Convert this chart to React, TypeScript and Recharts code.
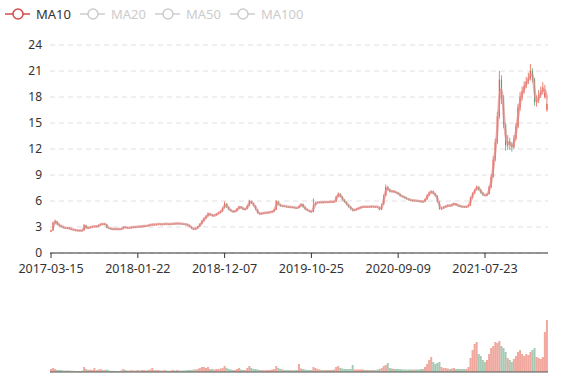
import React from "react";
import { ComposedChart, BarChart, Bar, Line, XAxis, YAxis, CartesianGrid, Cell } from "recharts";

// one point ≈ one trading week (5 sessions)
const tickIndex = [0, 42, 84, 126, 168, 210];
const tickLabels = ["2017-03-15", "2018-01-22", "2018-12-07", "2019-10-25", "2020-09-09", "2021-07-23"];
const yTicks = [0, 3, 6, 9, 12, 15, 18, 21, 24];
const legendNames = ["MA10", "MA20", "MA50", "MA100"];

const opens = [
  2.45, 2.6, 3.5, 3.6, 3.3, 3.15, 3.05, 2.9, 2.85, 2.9,
  2.8, 2.72, 2.66, 2.6, 2.62, 2.58, 2.6, 3.2, 2.85, 2.92,
  3.0, 3.04, 3.1, 3.05, 3.22, 3.35, 3.32, 3.3, 2.92, 2.85,
  2.8, 2.76, 2.75, 2.78, 2.76, 2.8, 3.0, 2.95, 2.9, 2.92,
  2.98, 3.02, 3.0, 3.06, 3.04, 3.1, 3.14, 3.12, 3.2, 3.26,
  3.3, 3.28, 3.32, 3.36, 3.3, 3.34, 3.38, 3.35, 3.32, 3.36,
  3.4, 3.38, 3.42, 3.4, 3.38, 3.34, 3.3, 3.22, 3.05, 2.85,
  2.72, 2.85, 3.05, 3.35, 3.7, 4.0, 4.25, 4.55, 4.4, 4.3,
  4.35, 4.5, 4.65, 4.8, 5.2, 5.7, 5.3, 5.0, 4.85, 4.75,
  4.85, 5.1, 5.35, 5.2, 5.02, 5.1, 5.45, 6.0, 5.75, 5.45,
  5.0, 4.6, 4.5, 4.6, 4.62, 4.66, 4.68, 4.74, 4.8, 5.0,
  5.95, 5.6, 5.42, 5.45, 5.38, 5.35, 5.3, 5.32, 5.26, 5.22,
  5.2, 5.4, 5.65, 5.3, 5.05, 4.92, 4.8, 4.75, 5.5, 5.8,
  5.85, 5.88, 5.84, 5.9, 5.86, 5.9, 5.92, 5.88, 5.95, 6.5,
  6.85, 6.5, 6.15, 5.9, 5.6, 5.35, 5.1, 4.9, 5.0, 5.12,
  5.2, 5.3, 5.35, 5.32, 5.36, 5.33, 5.38, 5.34, 5.36, 5.3,
  5.0, 5.6, 6.6, 7.6, 7.3, 7.1, 7.15, 7.05, 6.95, 6.8,
  6.6, 6.5, 6.38, 6.25, 6.15, 6.1, 6.05, 6.08, 6.0, 5.98,
  5.95, 5.92, 6.2, 6.65, 6.95, 7.1, 6.85, 6.6, 5.9, 5.1,
  5.2, 5.3, 5.4, 5.5, 5.45, 5.6, 5.7, 5.55, 5.45, 5.38,
  5.35, 5.3, 5.36, 5.5, 6.4, 6.9, 7.3, 7.65, 7.3, 6.95,
  6.7, 6.65, 6.8, 7.6, 8.8, 10.8, 12.8, 15.8, 20.0, 17.8,
  14.8, 12.4, 12.9, 12.5, 12.2, 13.2, 14.6, 16.8, 18.0, 18.7,
  19.3, 19.8, 20.2, 21.0, 20.0, 17.4, 17.6, 18.2, 18.6, 18.0, 16.5,
];

const closes = [
  2.6, 3.5, 3.7, 3.3, 3.15, 3.05, 2.95, 2.85, 2.9, 2.8,
  2.72, 2.66, 2.6, 2.62, 2.58, 2.6, 3.2, 2.85, 2.92, 3.0,
  3.04, 3.1, 3.05, 3.22, 3.35, 3.32, 3.35, 2.92, 2.85, 2.8,
  2.76, 2.75, 2.78, 2.76, 2.8, 3.0, 2.95, 2.9, 2.92, 2.98,
  3.02, 3.0, 3.06, 3.04, 3.1, 3.14, 3.12, 3.2, 3.26, 3.3,
  3.28, 3.32, 3.36, 3.3, 3.34, 3.38, 3.35, 3.32, 3.36, 3.4,
  3.38, 3.42, 3.4, 3.38, 3.34, 3.3, 3.22, 3.05, 2.85, 2.72,
  2.85, 3.05, 3.35, 3.7, 4.0, 4.25, 4.55, 4.4, 4.3, 4.35,
  4.5, 4.65, 4.8, 5.2, 5.7, 5.3, 5.0, 4.85, 4.75, 4.85,
  5.1, 5.35, 5.2, 5.02, 5.1, 5.45, 6.0, 5.75, 5.45, 5.0,
  4.6, 4.5, 4.6, 4.62, 4.66, 4.68, 4.74, 4.8, 5.0, 5.95,
  5.6, 5.42, 5.45, 5.38, 5.35, 5.3, 5.32, 5.26, 5.22, 5.2,
  5.4, 5.65, 5.3, 5.05, 4.92, 4.8, 4.75, 5.5, 5.8, 5.85,
  5.88, 5.84, 5.9, 5.86, 5.9, 5.92, 5.88, 5.95, 6.5, 6.85,
  6.5, 6.15, 5.9, 5.6, 5.35, 5.1, 4.9, 5.0, 5.12, 5.2,
  5.3, 5.35, 5.32, 5.36, 5.33, 5.38, 5.34, 5.36, 5.3, 5.0,
  5.6, 6.6, 7.6, 7.3, 7.1, 7.15, 7.05, 6.95, 6.8, 6.6,
  6.5, 6.38, 6.25, 6.15, 6.1, 6.05, 6.08, 6.0, 5.98, 5.95,
  5.92, 6.2, 6.65, 6.95, 7.1, 6.85, 6.6, 5.9, 5.1, 5.2,
  5.3, 5.4, 5.5, 5.45, 5.6, 5.7, 5.55, 5.45, 5.38, 5.35,
  5.3, 5.36, 5.5, 6.4, 6.9, 7.3, 7.65, 7.3, 6.95, 6.7,
  6.65, 6.8, 7.6, 8.8, 10.8, 12.8, 15.8, 20.0, 17.8, 14.8,
  12.4, 12.9, 12.5, 12.2, 13.2, 14.6, 16.8, 18.0, 18.7, 19.3,
  19.8, 20.2, 21.0, 20.0, 17.4, 17.6, 18.2, 18.6, 19.1, 18.5, 17.2,
];

const lows = [
  2.4, 2.55, 3.3, 3.2, 3.05, 2.95, 2.85, 2.78, 2.78, 2.72,
  2.65, 2.6, 2.55, 2.54, 2.52, 2.53, 2.58, 2.8, 2.8, 2.86,
  2.94, 2.98, 2.98, 3.0, 3.18, 3.25, 3.26, 2.88, 2.8, 2.74,
  2.7, 2.7, 2.7, 2.7, 2.72, 2.78, 2.9, 2.85, 2.85, 2.88,
  2.92, 2.95, 2.96, 2.98, 3.0, 3.04, 3.06, 3.08, 3.16, 3.2,
  3.22, 3.24, 3.26, 3.25, 3.26, 3.28, 3.3, 3.26, 3.28, 3.3,
  3.32, 3.34, 3.34, 3.32, 3.28, 3.24, 3.15, 3.0, 2.8, 2.65,
  2.68, 2.82, 3.0, 3.3, 3.62, 3.92, 4.2, 4.32, 4.22, 4.25,
  4.3, 4.45, 4.6, 4.75, 5.15, 5.2, 4.95, 4.78, 4.68, 4.7,
  4.8, 5.05, 5.12, 4.95, 4.95, 5.05, 5.4, 5.65, 5.38, 4.95,
  4.55, 4.42, 4.45, 4.55, 4.56, 4.6, 4.62, 4.68, 4.76, 4.98,
  5.5, 5.35, 5.36, 5.3, 5.28, 5.24, 5.24, 5.2, 5.16, 5.14,
  5.16, 5.35, 5.22, 4.98, 4.85, 4.72, 4.68, 4.72, 5.45, 5.74,
  5.8, 5.78, 5.78, 5.8, 5.8, 5.84, 5.82, 5.84, 5.9, 6.45,
  6.4, 6.05, 5.8, 5.5, 5.25, 5.0, 4.8, 4.85, 4.95, 5.05,
  5.15, 5.25, 5.26, 5.26, 5.27, 5.28, 5.28, 5.28, 5.22, 4.92,
  4.98, 5.55, 6.55, 7.2, 7.0, 7.0, 6.95, 6.88, 6.72, 6.52,
  6.42, 6.3, 6.18, 6.08, 6.02, 5.98, 5.98, 5.94, 5.92, 5.88,
  5.85, 5.88, 6.15, 6.6, 6.85, 6.75, 6.5, 5.8, 5.0, 4.95,
  5.1, 5.22, 5.32, 5.36, 5.38, 5.5, 5.45, 5.36, 5.3, 5.28,
  5.24, 5.24, 5.3, 5.45, 6.3, 6.8, 7.2, 7.2, 6.85, 6.6,
  6.55, 6.55, 6.75, 7.5, 8.7, 10.6, 12.6, 15.5, 17.2, 14.4,
  11.8, 11.9, 11.9, 11.7, 12.0, 13.0, 14.4, 16.4, 17.6, 18.4,
  19.0, 19.5, 19.9, 19.7, 17.0, 16.9, 17.3, 17.9, 18.3, 17.8, 16.3,
];

const highs = [
  2.7, 3.6, 3.85, 3.7, 3.4, 3.2, 3.1, 3.0, 2.98, 2.95,
  2.85, 2.78, 2.7, 2.68, 2.66, 2.66, 3.35, 3.25, 3.0, 3.06,
  3.1, 3.18, 3.15, 3.28, 3.42, 3.42, 3.44, 3.32, 2.96, 2.9,
  2.84, 2.82, 2.84, 2.82, 2.86, 3.08, 3.05, 2.98, 2.98, 3.04,
  3.08, 3.06, 3.12, 3.1, 3.16, 3.2, 3.18, 3.26, 3.32, 3.36,
  3.36, 3.38, 3.42, 3.4, 3.4, 3.44, 3.42, 3.4, 3.42, 3.46,
  3.45, 3.48, 3.46, 3.44, 3.42, 3.38, 3.34, 3.25, 3.08, 2.9,
  2.92, 3.12, 3.42, 3.8, 4.1, 4.35, 4.7, 4.62, 4.48, 4.45,
  4.58, 4.75, 4.9, 5.3, 5.95, 5.75, 5.35, 5.05, 4.9, 4.92,
  5.18, 5.45, 5.4, 5.25, 5.18, 5.55, 6.15, 6.05, 5.8, 5.5,
  5.05, 4.66, 4.66, 4.7, 4.72, 4.75, 4.8, 4.86, 5.1, 6.1,
  6.0, 5.66, 5.52, 5.5, 5.42, 5.4, 5.38, 5.36, 5.3, 5.28,
  5.5, 5.75, 5.7, 5.35, 5.1, 4.96, 4.84, 6.3, 5.9, 5.92,
  5.94, 5.92, 5.96, 5.94, 5.96, 5.98, 5.96, 6.0, 6.6, 7.0,
  6.9, 6.55, 6.2, 5.95, 5.65, 5.4, 5.15, 5.08, 5.2, 5.28,
  5.38, 5.42, 5.4, 5.42, 5.4, 5.44, 5.42, 5.42, 5.4, 5.34,
  5.7, 6.75, 7.9, 7.75, 7.4, 7.25, 7.2, 7.1, 7.0, 6.85,
  6.65, 6.55, 6.42, 6.3, 6.2, 6.14, 6.14, 6.12, 6.06, 6.04,
  6.0, 6.3, 6.75, 7.1, 7.25, 7.2, 6.9, 6.65, 5.95, 5.3,
  5.4, 5.5, 5.6, 5.58, 5.7, 5.8, 5.75, 5.6, 5.5, 5.42,
  5.4, 5.42, 5.6, 6.5, 7.0, 7.4, 7.8, 7.7, 7.35, 7.0,
  6.8, 6.9, 7.8, 9.1, 11.2, 13.2, 16.3, 21.0, 20.5, 18.2,
  15.0, 13.6, 13.3, 12.8, 13.6, 15.0, 17.2, 18.6, 19.2, 19.8,
  20.3, 20.8, 21.8, 21.3, 20.2, 18.2, 18.8, 19.2, 19.7, 19.4, 17.9,
];

const volumes = [
  3, 4, 3, 2, 2, 2, 1.5, 1.5, 1.5, 1.5,
  1.2, 1.2, 1, 1, 1, 1.2, 5, 3, 2, 2.5,
  2, 4, 2, 2.5, 3, 2, 2, 2.5, 1.5, 1.2,
  1.2, 1, 1, 1, 1.5, 3, 2, 1.5, 1.5, 2,
  1.5, 1.5, 2, 1.5, 2, 2, 1.5, 2, 2.5, 4,
  2, 2, 2, 1.5, 1.5, 2, 1.5, 1.2, 1.5, 2,
  1.5, 2, 1.5, 1.5, 1.5, 1.5, 2, 2, 2, 2.5,
  2.5, 3, 4, 5, 5, 4, 5, 3, 3, 2.5,
  3, 3, 3.5, 4, 6, 4, 3, 2.5, 2, 2,
  3, 4, 2.5, 2, 2, 4, 6, 4, 3, 3,
  2.5, 2, 2, 1.8, 1.8, 2, 2, 2.5, 3, 6,
  4, 3, 2.5, 2, 2, 2, 1.8, 1.8, 1.8, 2,
  8, 3.5, 3, 2.5, 2, 2, 2, 5, 4, 3,
  2.5, 2, 2, 2, 2, 2, 2, 2.5, 5, 6,
  4, 3.5, 3, 3, 3, 3, 7, 2.5, 2.5, 2.5,
  2.5, 2.5, 2, 2, 2, 2, 2, 2, 2.5, 3,
  4, 6, 7, 9, 4, 3.5, 3, 3, 3, 3,
  2.5, 2.5, 2.5, 2.5, 2.5, 2.5, 2.5, 2.5, 2.5, 3,
  3, 5, 8, 12, 15, 10, 8, 9, 10, 5,
  4, 4, 3.5, 3, 3.5, 4, 3, 3, 3, 3,
  3, 3, 5, 14, 22, 28, 30, 18, 16, 12,
  10, 12, 18, 24, 26, 30, 29, 31, 26, 24,
  20, 14, 12, 10, 13, 16, 20, 22, 18, 16,
  18, 17, 20, 22, 24, 15, 14, 13, 15, 40, 52,
];

const UP = "#e4604e";
const DOWN = "#5f9f78";
const MA_COLOR = "#d24b4b";
const FONT = "'Noto Sans', 'DejaVu Sans', sans-serif";

// MA10: ten sessions = two weekly points
const data = opens.map((o, i) => ({
  i,
  o,
  c: closes[i],
  l: lows[i],
  h: highs[i],
  v: volumes[i],
  ma: i > 0 ? (closes[i - 1] + closes[i]) / 2 : null,
}));

const maxVol = Math.max(...volumes);

const Candle = (props: any) => {
  const { x, y, width, height, payload } = props;
  if (!payload) return null;
  const { o, c, l, h } = payload;
  const color = c >= o ? UP : DOWN;
  const k = h === l ? 0 : height / (h - l);
  const top = y + (h - Math.max(o, c)) * k;
  const bodyH = Math.max(1, Math.abs(o - c) * k);
  const cx = x + width / 2;
  const bw = Math.max(1, width * 0.6);
  return (
    <g>
      <line x1={cx} x2={cx} y1={y} y2={y + height} stroke={color} strokeWidth={0.8} />
      <rect x={cx - bw / 2} y={top} width={bw} height={bodyH} fill={color} />
    </g>
  );
};

const LegendBar = () => {
  const starts = [5, 80, 155, 230];
  return (
    <svg width={577} height={30} style={{ position: "absolute", left: 0, top: 0 }}>
      {legendNames.map((name, k) => {
        const x0 = starts[k];
        const col = k === 0 ? MA_COLOR : "#ccc";
        return (
          <g key={name}>
            <line x1={x0} x2={x0 + 25} y1={14} y2={14} stroke={col} strokeWidth={1.5} />
            <circle cx={x0 + 13} cy={14} r={5} fill="#fff" stroke={col} strokeWidth={1.5} />
            <text x={x0 + 31} y={19} fontSize={13} fill={k === 0 ? "#333" : "#ccc"} fontFamily={FONT}>
              {name}
            </text>
          </g>
        );
      })}
    </svg>
  );
};

export default function App() {
  return (
    <div style={{ position: "absolute", left: 0, top: 0, width: 577, height: 380, background: "#fff", fontFamily: FONT }}>
      <ComposedChart
        width={577}
        height={283}
        data={data}
        margin={{ top: 45, right: 29, bottom: 0, left: 0 }}
        barCategoryGap={0}
      >
        <CartesianGrid vertical={false} stroke="#e0e0e0" strokeDasharray="5 4" />
        <XAxis
          dataKey="i"
          ticks={tickIndex}
          interval={0}
          tickFormatter={(v: number) => tickLabels[tickIndex.indexOf(v)] ?? ""}
          axisLine={{ stroke: "#333" }}
          tickLine={{ stroke: "#333" }}
          tickSize={5}
          tickMargin={6}
          tick={{ fontSize: 12.5, fill: "#333" }}
          height={30}
        />
        <YAxis
          domain={[0, 24]}
          ticks={yTicks}
          axisLine={false}
          tickLine={false}
          width={50}
          tick={{ fontSize: 12, fill: "#333" }}
        />
        <Line
          dataKey="ma"
          type="monotone"
          stroke="#e58d8d"
          strokeOpacity={0.7}
          strokeWidth={2.5}
          dot={false}
          activeDot={false}
          isAnimationActive={false}
        />
        <Bar dataKey={(d: any) => [d.l, d.h]} shape={<Candle />} isAnimationActive={false} />
      </ComposedChart>
      <BarChart
        width={577}
        height={97}
        data={data}
        margin={{ top: 37, right: 29, bottom: 7, left: 50 }}
        barCategoryGap={0}
      >
        <XAxis dataKey="i" tick={false} tickLine={false} axisLine={{ stroke: "#555" }} height={1} />
        <YAxis hide domain={[0, maxVol]} />
        <Bar dataKey="v" isAnimationActive={false} fillOpacity={0.55}>
          {data.map((d) => (
            <Cell key={d.i} fill={d.c >= d.o ? UP : DOWN} />
          ))}
        </Bar>
      </BarChart>
      <LegendBar />
    </div>
  );
}
